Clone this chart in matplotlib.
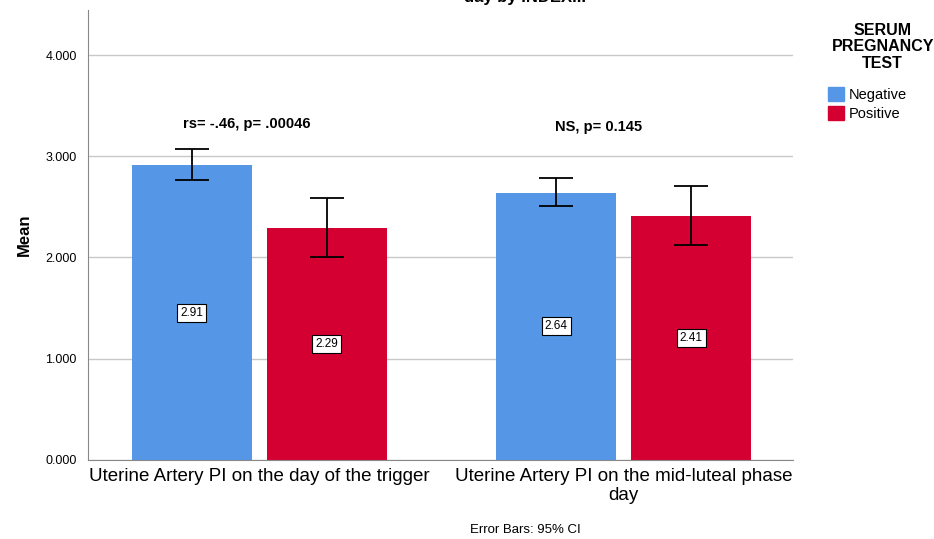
import numpy as np
import matplotlib.pyplot as plt
from matplotlib.patches import Patch

plt.rcParams['font.family'] = ['Liberation Sans', 'DejaVu Sans']

categories = ["Uterine Artery PI on the day of the trigger",
              "Uterine Artery PI on the mid-luteal phase\nday"]
groups = ["Negative", "Positive"]
means = {"Negative": [2.91, 2.64], "Positive": [2.29, 2.41]}
ci_low = {"Negative": [2.77, 2.51], "Positive": [2.00, 2.12]}
ci_high = {"Negative": [3.07, 2.785], "Positive": [2.59, 2.71]}
colors = {"Negative": "#5596E6", "Positive": "#D50032"}
notes = ["rs= -.46, p= .00046", "NS, p= 0.145"]
yticks = [0, 1, 2, 3, 4]

fig = plt.figure(figsize=(9.34, 5.39), dpi=100)
ax = fig.add_axes([0.0942, 0.1466, 0.755, 0.834])

x = np.arange(len(categories))
width = 0.33
offsets = [-0.185, 0.185]

for g, off in zip(groups, offsets):
    m = np.array(means[g])
    lo = m - np.array(ci_low[g])
    hi = np.array(ci_high[g]) - m
    ax.bar(x + off, m, width, color=colors[g], label=g, zorder=2)
    ax.errorbar(x + off, m, yerr=[lo, hi], fmt='none', ecolor='black',
                elinewidth=1.3, capsize=12, capthick=1.3, zorder=3)
    for xi, v in zip(x + off, m):
        ax.text(xi, v / 2, f"{v:.2f}", ha='center', va='center', fontsize=8.5,
                bbox=dict(boxstyle='square,pad=0.25', fc='white', ec='black', lw=0.8),
                zorder=4)

ax.text(x[0] - 0.035, 3.32, notes[0], ha='center', va='center', fontsize=10.5, fontweight='bold')
ax.text(x[1] - 0.07, 3.29, notes[1], ha='center', va='center', fontsize=10.5, fontweight='bold')

ax.set_xlim(-0.47, 1.465)
ax.set_ylim(0, 4.44)
ax.set_yticks(yticks)
ax.set_yticklabels([f"{t:.3f}" for t in yticks], fontsize=9)
ax.set_xticks(x)
ax.set_xticklabels(categories, fontsize=13.5, linespacing=1.1)
ax.tick_params(axis='x', length=0, pad=6)
ax.tick_params(axis='y', length=0, pad=8)
ax.yaxis.grid(True, color='#C8C8C8', lw=1)
ax.set_axisbelow(True)
for s in ['top', 'right']:
    ax.spines[s].set_visible(False)
for s in ['left', 'bottom']:
    ax.spines[s].set_color('#888888')
ax.set_ylabel("Mean", fontsize=12, fontweight='bold', labelpad=10)

fig.text(0.945, 0.913, "SERUM\nPREGNANCY\nTEST", ha='center', va='center',
         fontsize=11.5, fontweight='bold', linespacing=1.1)
handles = [Patch(color=colors[g], label=g) for g in groups]
ax.legend(handles=handles, loc='upper left', bbox_to_anchor=(0.886, 0.838),
          bbox_transform=fig.transFigure, frameon=False, fontsize=10.5,
          handlelength=1.1, handleheight=1.1, handletextpad=0.35, labelspacing=0.25,
          borderpad=0, borderaxespad=0)

fig.text(0.562, 1.005, "day by INDEX...", ha='center', va='center', fontsize=12, fontweight='bold')
fig.text(0.562, 0.017, "Error Bars: 95% CI", ha='center', va='center', fontsize=9.5)

fig.savefig("out.png", dpi=100)
